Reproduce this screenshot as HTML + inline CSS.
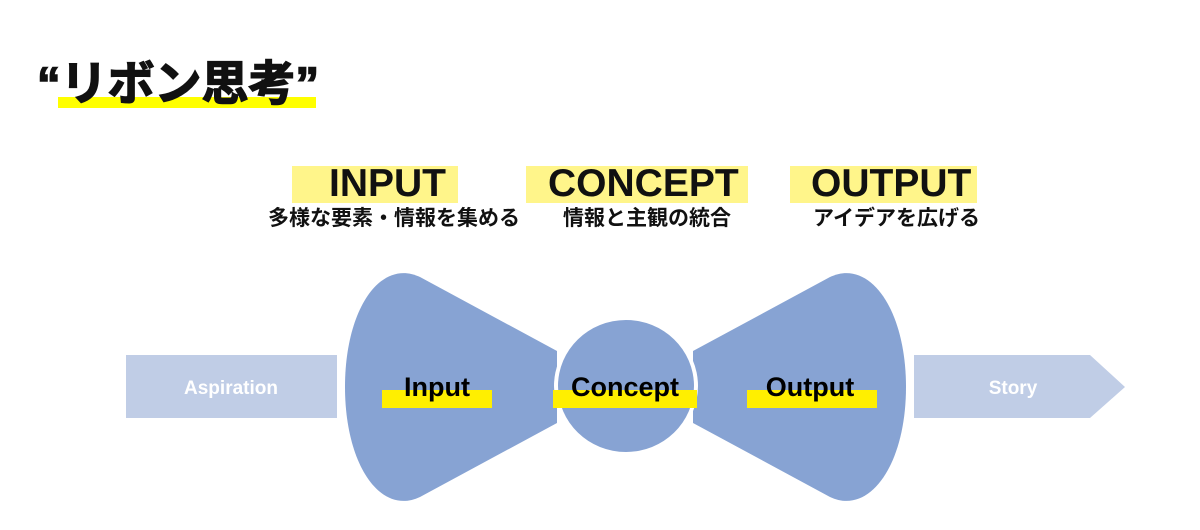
<!DOCTYPE html>
<html><head><meta charset="utf-8"><style>
body{margin:0;width:1200px;height:530px;background:#fff;position:relative;overflow:hidden;font-family:"Liberation Sans","Noto Sans CJK JP",sans-serif;}
.a{position:absolute;}
.hl{position:absolute;background:#fff58a;}
.t{position:absolute;font-weight:bold;color:#111;white-space:nowrap;}
</style></head><body>
<div class="a" style="left:58px;top:97px;width:258px;height:11px;background:#ffff00"></div>
<div class="t" style="left:37px;top:54px;font-size:47px;line-height:60px;-webkit-text-stroke:1.5px #111">“リボン思考”</div>

<div class="hl" style="left:292px;top:166px;width:166px;height:37px"></div>
<div class="hl" style="left:526px;top:166px;width:222px;height:37px"></div>
<div class="hl" style="left:790px;top:166px;width:187px;height:37px"></div>
<div class="t" style="left:329px;top:162px;font-size:39px;line-height:44px">INPUT</div>
<div class="t" style="left:548px;top:162px;font-size:39px;line-height:44px">CONCEPT</div>
<div class="t" style="left:811px;top:162px;font-size:39px;line-height:44px">OUTPUT</div>
<div class="t" style="left:268px;top:205px;font-size:21px;line-height:28px">多様な要素・情報を集める</div>
<div class="t" style="left:563px;top:205px;font-size:21px;line-height:28px">情報と主観の統合</div>
<div class="t" style="left:813px;top:205px;font-size:21px;line-height:28px">アイデアを広げる</div>

<svg class="a" style="left:0;top:0" width="1200" height="530">
<rect x="126" y="355" width="211" height="63" fill="#c0cde6"/>
<polygon points="914,355 1090,355 1125,387 1090,418 914,418" fill="#c0cde6"/>
<path d="M557,351 L420,277 C380,258 345,310 345,387 C345,464 380,516 420,497 L557,423 Z" fill="#87a3d3"/>
<path d="M693,351 L830,277 C870,258 906,310 906,387 C906,464 870,516 830,497 L693,423 Z" fill="#87a3d3"/>
<ellipse cx="626" cy="386" rx="72" ry="69" fill="#fff"/>
<ellipse cx="626" cy="386" rx="68" ry="66" fill="#87a3d3"/>
<rect x="382" y="390" width="110" height="18" fill="#ffef00"/>
<rect x="553" y="390" width="144" height="18" fill="#ffef00"/>
<rect x="747" y="390" width="130" height="18" fill="#ffef00"/>
<g font-family="Liberation Sans, sans-serif" font-weight="bold" text-anchor="middle">
<text x="231" y="394" font-size="19" fill="#fff">Aspiration</text>
<text x="1013" y="394" font-size="19" fill="#fff">Story</text>
<text x="437" y="396" font-size="27" fill="#000">Input</text>
<text x="625" y="396" font-size="27" fill="#000">Concept</text>
<text x="810" y="396" font-size="27" fill="#000">Output</text>
</g>
</svg>
</body></html>
